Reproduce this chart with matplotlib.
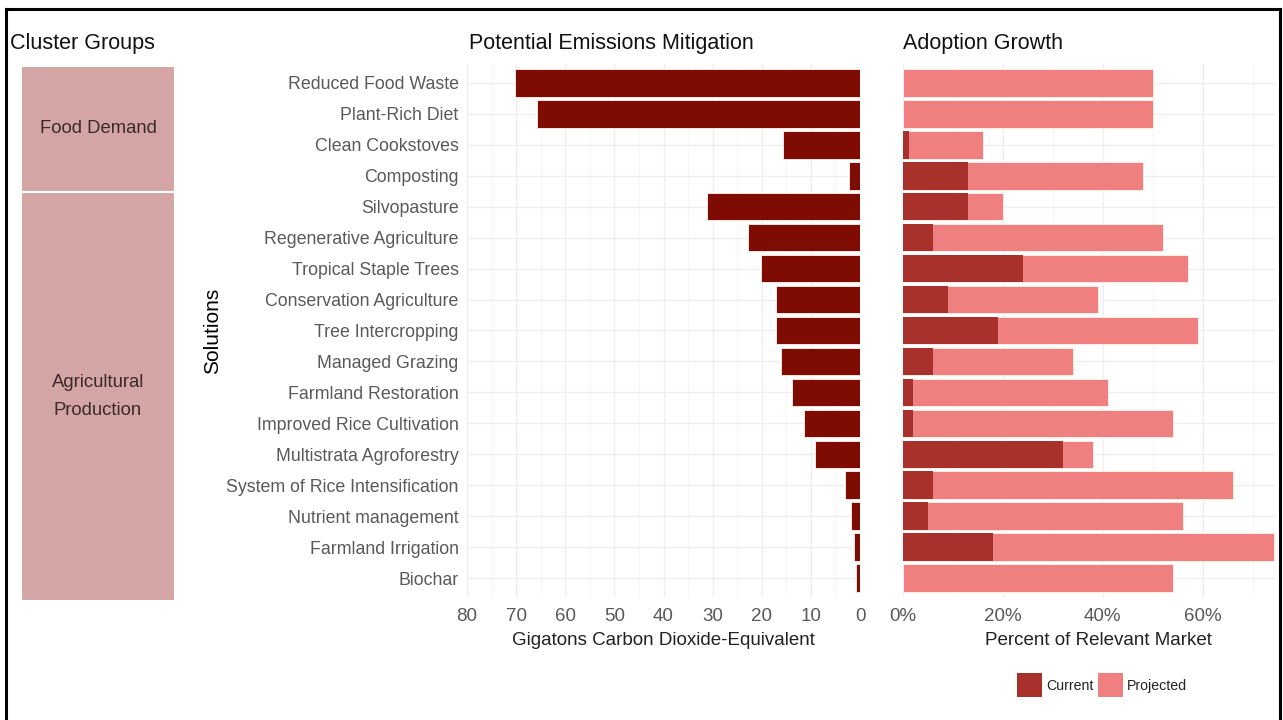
import matplotlib
matplotlib.use("Agg")
import matplotlib.pyplot as plt
from matplotlib.patches import Rectangle
from matplotlib.lines import Line2D
import numpy as np

plt.rcParams['font.family'] = ['Liberation Sans', 'DejaVu Sans']

solutions = ["Reduced Food Waste", "Plant-Rich Diet", "Clean Cookstoves", "Composting",
             "Silvopasture", "Regenerative Agriculture", "Tropical Staple Trees",
             "Conservation Agriculture", "Tree Intercropping", "Managed Grazing",
             "Farmland Restoration", "Improved Rice Cultivation", "Multistrata Agroforestry",
             "System of Rice Intensification", "Nutrient management", "Farmland Irrigation",
             "Biochar"]
mitigation = [70.3, 65.8, 15.7, 2.2, 31.1, 22.9, 20.2, 17.1, 17.1, 16.1, 13.8, 11.3, 9.2,
              3.1, 1.8, 1.2, 0.8]
current = [0, 0, 1.2, 13, 13, 6, 24, 9, 19, 6, 2, 2, 32, 6, 5, 18, 0]
projected = [50, 50, 16, 48, 20, 52, 57, 39, 59, 34, 41, 54, 38, 66, 56, 74.3, 54]
clusters = ["Food Demand", "Agricultural\nProduction"]
cluster_counts = [4, 13]
mit_ticks = [80, 70, 60, 50, 40, 30, 20, 10, 0]
pct_ticks = [0, 20, 40, 60]
pct_labels = ["0%", "20%", "40%", "60%"]

W, H = 1283, 720
fig = plt.figure(figsize=(W / 100, H / 100), dpi=100)
fig.patch.set_facecolor("white")

def rect(x0, y0, x1, y1):
    return [x0 / W, 1 - y1 / H, (x1 - x0) / W, (y1 - y0) / H]

C_MIT = "#7e0c03"
C_CUR = "#a8322b"
C_PROJ = "#f08080"
C_CLU = "#d4a5a5"
GRID = "#efefef"
TICK = "#595959"

n = len(solutions)
y = np.arange(n)

def style(ax):
    for s in ax.spines.values():
        s.set_visible(False)
    ax.tick_params(length=0)
    ax.set_axisbelow(True)

# Middle: mitigation
ax1 = fig.add_axes(rect(467, 64, 860, 597))
style(ax1)
ax1.barh(y, mitigation, height=0.9, color=C_MIT, edgecolor="#fff4ee", linewidth=0.6)
ax1.set_xlim(80, 0)
ax1.set_ylim(n - 0.4, -0.6)
ax1.set_xticks(mit_ticks)
ax1.set_xticks([75, 65, 55, 45, 35, 25, 15, 5], minor=True)
ax1.set_xticklabels([str(t) for t in mit_ticks], fontsize=13.5, color=TICK)
ax1.set_yticks(y)
ax1.set_yticklabels(solutions, fontsize=12.8, color=TICK)
ax1.tick_params(axis='y', pad=6)
ax1.tick_params(axis='x', pad=8, which='both', length=0)
ax1.grid(True, which='major', color=GRID, linewidth=1.0)
ax1.grid(True, which='minor', axis='x', color="#f7f7f7", linewidth=0.8)
ax1.set_xlabel("Gigatons Carbon Dioxide-Equivalent", fontsize=13.5, color="#222222", labelpad=3)

fig.text(213 / W, 1 - 331 / H, "Solutions", rotation=90, fontsize=15, ha="center", va="center", color="black")

# Right: adoption
ax2 = fig.add_axes(rect(903, 64, 1275, 597))
style(ax2)
ax2.barh(y, projected, height=0.9, color=C_PROJ, edgecolor="#fff4ee", linewidth=0.6, label="Projected")
ax2.barh(y, current, height=0.9, color=C_CUR, edgecolor="none", label="Current")
ax2.set_xlim(0, 74.5)
ax2.set_ylim(n - 0.4, -0.6)
ax2.set_xticks(pct_ticks)
ax2.set_xticks([10, 30, 50, 70], minor=True)
ax2.set_xticklabels(pct_labels, fontsize=13.5, color=TICK)
ax2.set_yticks(y)
ax2.set_yticklabels([])
ax2.tick_params(axis='x', pad=8, which='both', length=0)
ax2.grid(True, which='major', color=GRID, linewidth=1.0)
ax2.grid(True, which='minor', axis='x', color="#f7f7f7", linewidth=0.8)
ax2.set_xlabel("Percent of Relevant Market", fontsize=13.5, color="#222222", labelpad=3)
ax2.xaxis.set_label_coords((1098 - 903) / (1275 - 903), ax2.xaxis.label.get_position()[1])
ax2.xaxis.label.set_position(((1098 - 903) / (1275 - 903), 0))
ax2.xaxis.set_label_coords((1098 - 903) / (1275 - 903), -0.065)
ax1.xaxis.set_label_coords(0.5, -0.065)

# Cluster groups
ax0 = fig.add_axes(rect(21, 66, 175, 601))
ax0.set_axis_off()
ax0.set_xlim(0, 1)
ax0.set_ylim(sum(cluster_counts), 0)
start = 0
for name, cnt in zip(clusters, cluster_counts):
    ax0.barh(start + cnt / 2, 1, height=cnt, left=0, color=C_CLU, edgecolor="white", linewidth=1.5)
    ax0.text(0.5, start + cnt / 2, name, ha="center", va="center", fontsize=13.3,
             color="#3a2a2a", linespacing=1.85)
    start += cnt

# Titles
fig.text(10 / W, 1 - 44 / H, "Cluster Groups", fontsize=15.5, ha="left", va="center", color="#111111")
fig.text(469 / W, 1 - 44 / H, "Potential Emissions Mitigation", fontsize=15.5, ha="left", va="center", color="#111111")
fig.text(903 / W, 1 - 44 / H, "Adoption Growth", fontsize=15.5, ha="left", va="center", color="#111111")

# Legend
leg_items = [("Current", C_CUR, 1017, 1046), ("Projected", C_PROJ, 1098, 1127)]
for label, col, xs, xt in leg_items:
    fig.patches.append(Rectangle((xs / W, 1 - 697 / H), 25 / W, 24 / H, transform=fig.transFigure,
                                 facecolor=col, edgecolor="none"))
    fig.text(xt / W, 1 - 686 / H, label, fontsize=10.2, ha="left", va="center", color="#222222")

# Border
lw = 2.2
fig.add_artist(Line2D([6 / W, 6 / W], [0, 1 - 9 / H], transform=fig.transFigure, color="black", linewidth=lw))
fig.add_artist(Line2D([6 / W, 1280 / W], [1 - 9 / H, 1 - 9 / H], transform=fig.transFigure, color="black", linewidth=lw))
fig.add_artist(Line2D([1280 / W, 1280 / W], [0, 1 - 9 / H], transform=fig.transFigure, color="black", linewidth=lw))

fig.savefig("out.png", dpi=100, facecolor="white")
